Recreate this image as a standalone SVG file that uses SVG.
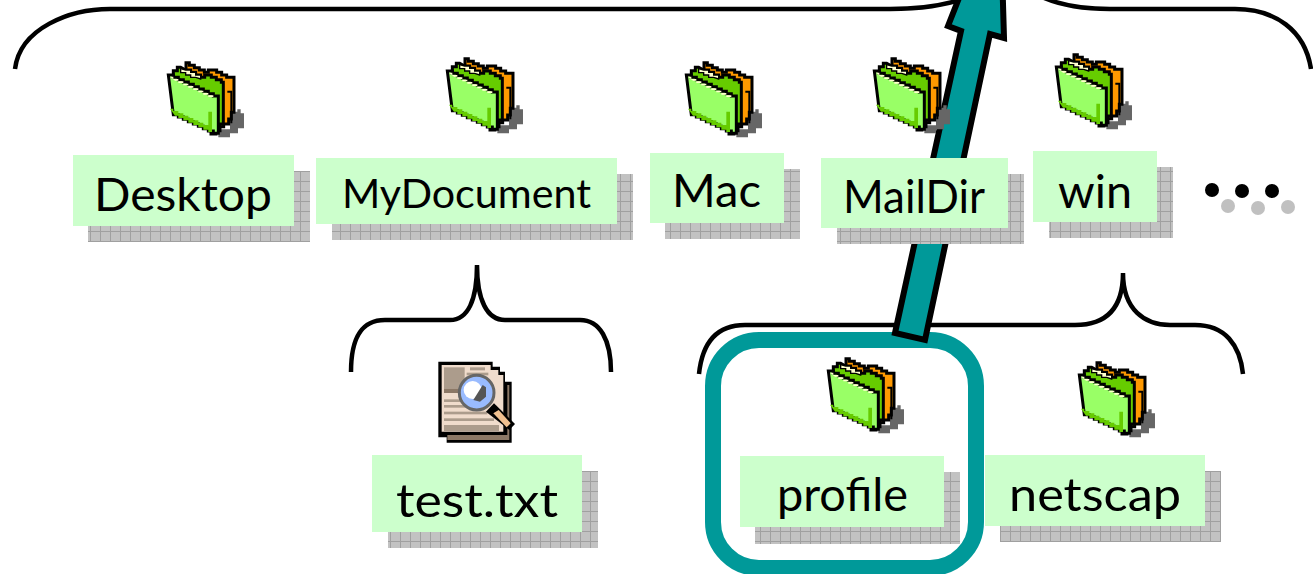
<svg xmlns="http://www.w3.org/2000/svg" width="1313" height="574" viewBox="0 0 1313 574">
<style>
.label{fill:#ccffcc}
.shadow{fill:url(#grid)}
.t{font-family:Lato,"Liberation Sans",Arial,sans-serif;font-weight:400;font-size:47px;fill:#000}
.brace{fill:none;stroke:#000;stroke-width:4.5}
.k{stroke:#000;stroke-width:9;stroke-linejoin:miter}
</style>
<defs>
<pattern id="grid" width="10" height="10" patternUnits="userSpaceOnUse" x="0" y="1">
<rect width="10" height="10" fill="#c2c2c2"/>
<path d="M0 .5H10M.5 0V10" stroke="#a0a0a0" stroke-width="1" fill="none"/>
</pattern>
<g id="folder" transform="scale(.3333)">
<path d="M205 265V238H240V185H262V178H272V190H282V235H264V250H240V262H205Z" fill="#666"/>
<path class="k" fill="#ff9900" d="M108 38h10v8h15v7h15v7h15v7h12v-7h25v7h15v8h15v7h22v105h-8v20h-8v15h-15v8h-15v10h-20V130L108 60Z"/>
<path class="k" fill="#66cc00" d="M70 62h12v-10h10l15 8h15v7h15v8h15v7h12v-7h20v7h15v7h15v8h6v125h-10v20h-12v10h-15V140L70 80Z"/>
<path fill="none" stroke="#000" stroke-width="6" d="M232 125h12v95"/>
<path fill="#ffffcc" stroke="#000" stroke-width="4" d="M92 56l15 4h15v7h15v8h15v12l-15-5h-15v-7h-15v-7h-15Z"/>
<path class="k" fill="#99ff66" d="M55 75h15v7h15v7h15v7h15v7h15v7h15v7h15v7h15v7h15v7h15v112h-15v-7h-15v-7h-15v-7h-15v-7h-15v-7h-15v-7h-15v-7h-15v-7h-15Z"/>
<path fill="#ffffcc" d="M60 80h10v7h15v7h15v7h15v7h15v7h15v7h15v7h15v7h15v5h-15v-7h-15v-7h-15v-7h-15v-7h-15v-7h-15v-7h-15v-7h-10Z"/>
<path fill="#66cc00" d="M60 176h10v7h15v7h15v7h15v7h15v7h15v7h15v7h15v-40h11v61h-11v-7h-15v-7h-15v-7h-15v-7h-15v-7h-15v-7h-15v-7h-10Z"/>
</g>
</defs>
<path class="brace" d="M15 69C20 28 70 9 110 9H890C920 9 945 6 968-3"/>
<path class="brace" d="M1042-3C1060 5 1085 9 1110 9H1235C1275 9 1305 30 1311 69"/>
<path class="brace" d="M351 372C351 340 360 320 385 320H450C468 320 477 300 477 265C477 300 487 320 505 320H580C600 320 611 340 611 372"/>
<path class="brace" d="M699 374C702 345 715 325 745 325H1075C1105 325 1123 310 1123 273C1123 310 1145 325 1170 325H1195C1225 325 1240 345 1243 374"/>
<rect id="selection" x="713" y="340" width="263" height="228" rx="46" fill="none" stroke="#009999" stroke-width="16"/>
<g id="connectors">
<path d="M895 333L961 31L948 26L970-30H1002L1004 38L990 34L925 340Z" fill="#009999" stroke="#000" stroke-width="6"/>
</g>
<g id="node-desktop"><use href="#folder" transform="translate(150 50)"/><rect class="shadow" x="88" y="171" width="222" height="71"/><rect class="label" x="73" y="155" width="221" height="71"/><text class="t" x="94" y="211" textLength="178" lengthAdjust="spacingAndGlyphs">Desktop</text></g>
<g id="node-mydocument"><use href="#folder" transform="translate(429 46)"/><rect class="shadow" x="332" y="174" width="301" height="66"/><rect class="label" x="316" y="158" width="301" height="66"/><text class="t" x="342" y="208" style="font-size:40px" textLength="249" lengthAdjust="spacingAndGlyphs">MyDocument</text></g>
<g id="node-mac"><use href="#folder" transform="translate(668 50)"/><rect class="shadow" x="665" y="169" width="135" height="70"/><rect class="label" x="650" y="153" width="134" height="70"/><text class="t" x="672" y="207" textLength="89" lengthAdjust="spacingAndGlyphs">Mac</text></g>
<g id="node-maildir"><use href="#folder" transform="translate(856 46)"/><rect class="shadow" x="837" y="174" width="187" height="70"/><rect class="label" x="821" y="158" width="187" height="70"/><text class="t" x="843" y="213" textLength="142" lengthAdjust="spacingAndGlyphs">MailDir</text></g>
<g id="node-win"><use href="#folder" transform="translate(1038 42)"/><rect class="shadow" x="1049" y="167" width="124" height="71"/><rect class="label" x="1033" y="151" width="124" height="71"/><text class="t" x="1058" y="208" textLength="74" lengthAdjust="spacingAndGlyphs">win</text></g>
<g id="node-more"><circle cx="1228" cy="206" r="7" fill="#c0c0c0"/><circle cx="1258" cy="208" r="7" fill="#c0c0c0"/><circle cx="1288" cy="207" r="7" fill="#c0c0c0"/><circle cx="1212" cy="190" r="7"/><circle cx="1242" cy="191" r="7"/><circle cx="1272" cy="191" r="7"/></g>
<g id="node-test"><g transform="translate(420 350) scale(.3333)">
<path d="M55 35H218V50H240V65H255V95H275V278H80V262H55Z" fill="#000"/>
<path d="M82 255H262V105H268V270H82Z" fill="#8c7866"/>
<path d="M65 45H212V60H235V75H250V245H65Z" fill="#f0dccc"/>
<rect x="72" y="52" width="62" height="65" fill="#ac9c8c"/><rect x="72" y="117" width="50" height="12" fill="#8c7866"/>
<rect x="150" y="52" width="45" height="9" fill="#ac9c8c"/><rect x="140" y="68" width="65" height="8" fill="#ac9c8c"/>
<rect x="72" y="148" width="60" height="8" fill="#ac9c8c"/><rect x="72" y="165" width="65" height="8" fill="#ac9c8c"/><rect x="72" y="185" width="130" height="8" fill="#ac9c8c"/><rect x="72" y="205" width="150" height="8" fill="#ac9c8c"/><rect x="72" y="225" width="165" height="18" fill="#ac9c8c"/>
<circle cx="170" cy="128" r="52" fill="#99bbff" stroke="#666" stroke-width="9"/>
<circle cx="158" cy="120" r="27" fill="#fff"/>
<path d="M160 150L188 105L198 112V140L180 155Z" fill="#555"/>
<path d="M198 185L222 160L285 222L268 240Z" fill="#000"/>
<path d="M220 190L236 180L272 220L260 232Z" fill="#f0c090"/>
</g><rect class="shadow" x="388" y="471" width="210" height="77"/><rect class="label" x="372" y="455" width="210" height="77"/><text class="t" x="396" y="517" textLength="162" lengthAdjust="spacingAndGlyphs">test.txt</text></g>
<g id="node-profile"><use href="#folder" transform="translate(810 346)"/><rect class="shadow" x="755" y="472" width="205" height="72"/><rect class="label" x="740" y="456" width="204" height="71"/><text class="t" x="777" y="511" textLength="131" lengthAdjust="spacingAndGlyphs">profile</text></g>
<g id="node-netscap"><use href="#folder" transform="translate(1061 350)"/><rect class="shadow" x="1000" y="471" width="221" height="71"/><rect class="label" x="985" y="455" width="220" height="71"/><text class="t" x="1009" y="511" textLength="172" lengthAdjust="spacingAndGlyphs">netscap</text></g>
</svg>
